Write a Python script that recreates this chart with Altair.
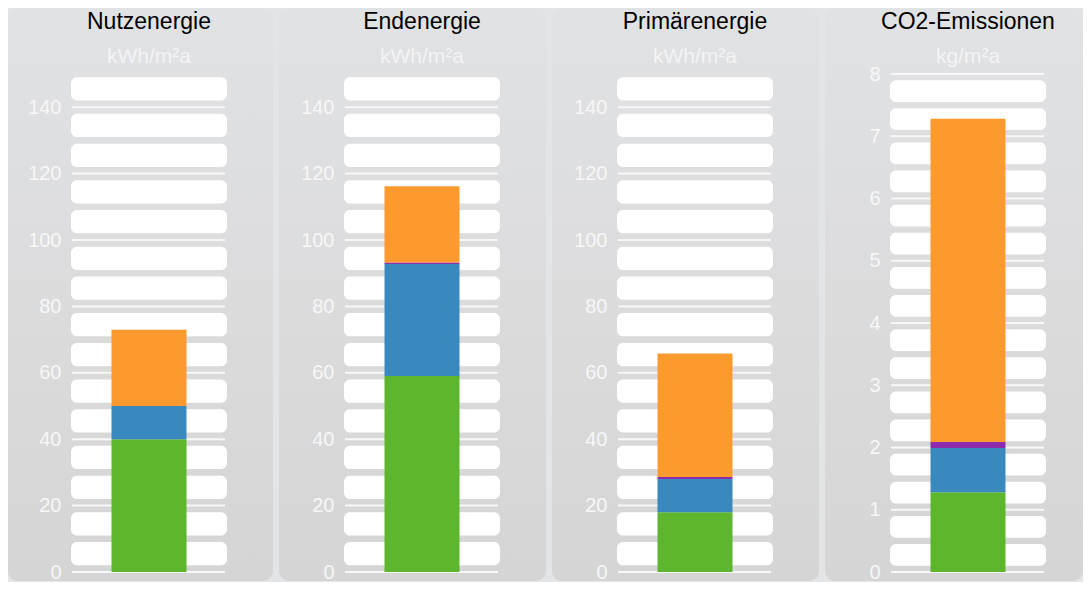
import altair as alt
import pandas as pd

# ---------------- data ----------------
panel_titles = ["Nutzenergie", "Endenergie", "Primärenergie", "CO2-Emissionen"]
panel_units = ["kWh/m²a", "kWh/m²a", "kWh/m²a", "kg/m²a"]
segments = ["Heizung", "Warmwasser", "Hilfsenergie", "Strom"]
segment_colors = ["#5db62d", "#3a89be", "#8e2cae", "#fd9a2e"]

nutz_values = [40.0, 10.0, 0.0, 23.0]
end_values = [59.0, 33.8, 0.4, 23.0]
prim_values = [18.0, 10.0, 0.6, 37.2]
co2_values = [1.28, 0.71, 0.10, 5.19]

kwh_ticks = [0, 20, 40, 60, 80, 100, 120, 140]
co2_ticks = [0, 1, 2, 3, 4, 5, 6, 7, 8]
kwh_max = 150
co2_max = 8

# ---------------- layout / style ----------------
W = 156
H = 498
TOP = 66
BOT = 9
FONT = "Liberation Sans"

panel_bg = alt.LinearGradient(
    gradient="linear",
    stops=[alt.GradientStop(color="#e1e2e4", offset=0),
           alt.GradientStop(color="#d5d5d5", offset=1)],
    x1=0, x2=0, y1=0, y2=1,
)


def stripes_for(ticks, ymax):
    lo, hi = [], []
    step = ticks[1] - ticks[0]
    for t in ticks:
        for f0, f1 in ((0.1, 0.45), (0.55, 0.9)):
            a, b = t + f0 * step, t + f1 * step
            if b <= ymax:
                lo.append(a)
                hi.append(b)
    return pd.DataFrame({"lo": lo, "hi": hi})


def make_panel(i, values, ticks, ymax, left_ext, right_ext):
    yscale = alt.Scale(domain=[0, ymax], nice=False, zero=True)
    yaxis = alt.Axis(values=ticks, title=None, zindex=2, grid=False,
                     domain=False, ticks=False, labelPadding=10,
                     labelFontSize=20, labelColor="#f7f7f7", labelFont=FONT)

    bars = pd.DataFrame({
        "panel": [panel_titles[i]] * len(segments),
        "segment": segments,
        "value": values,
        "idx": list(range(len(segments))),
    })
    grid = pd.DataFrame({"tick": ticks})
    stripes = stripes_for(ticks, ymax)

    bg = alt.Chart(pd.DataFrame({"p": [0]})).mark_rect(
        fill=panel_bg, cornerRadius=10
    ).encode(
        x=alt.value(-left_ext), x2=alt.value(W + right_ext),
        y=alt.value(-TOP), y2=alt.value(H + BOT),
    )

    stripe_layer = alt.Chart(stripes).mark_rect(
        fill="#ffffff", cornerRadius=6
    ).encode(
        y=alt.Y("lo:Q", scale=yscale, axis=yaxis),
        y2="hi:Q",
        x=alt.value(0), x2=alt.value(W),
    )

    rule_layer = alt.Chart(grid).mark_rule(
        color="#f8f8f8", strokeWidth=2
    ).encode(
        y=alt.Y("tick:Q", scale=yscale, axis=yaxis),
        x=alt.value(1), x2=alt.value(W - 2),
    )

    bar_layer = alt.Chart(bars).mark_bar(size=75).encode(
        x=alt.X("panel:N", axis=None),
        y=alt.Y("value:Q", stack="zero", scale=yscale, axis=yaxis),
        color=alt.Color("segment:N",
                        scale=alt.Scale(domain=segments, range=segment_colors),
                        legend=None),
        order=alt.Order("idx:Q", sort="ascending"),
    )

    return alt.layer(bg, stripe_layer, rule_layer, bar_layer).properties(
        width=W, height=H,
        title=alt.TitleParams(
            text=panel_titles[i], subtitle=panel_units[i],
            anchor="middle", frame="group",
            fontSize=23, fontWeight="normal", color="#000000", font=FONT,
            subtitleFontSize=21, subtitleColor="#f3f4f5", subtitleFont=FONT,
            subtitlePadding=12, offset=-(TOP - 7),
        ),
    )


p1 = make_panel(0, nutz_values, kwh_ticks, kwh_max, 63, 46)
p2 = make_panel(1, end_values, kwh_ticks, kwh_max, 65, 46)
p3 = make_panel(2, prim_values, kwh_ticks, kwh_max, 65, 46)
p4 = make_panel(3, co2_values, co2_ticks, co2_max, 65, 37)

chart = alt.hconcat(p1, p2, p3, p4, spacing=6).resolve_scale(
    y="independent", x="independent", color="shared"
).properties(
    padding=0, background="#e3e4e6"
).configure_view(
    stroke=None
)

chart.save("out.html", embed_options={"renderer": "svg", "actions": False})
